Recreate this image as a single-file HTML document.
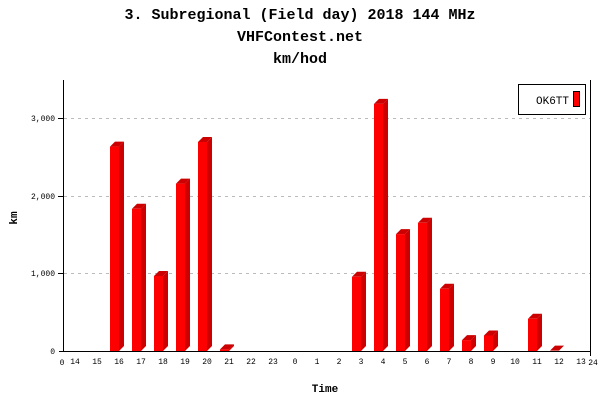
<!DOCTYPE html>
<html><head><meta charset="utf-8"><style>
body{margin:0;background:#fff;width:600px;height:400px;overflow:hidden}
svg text{font-family:"Liberation Mono",monospace}
</style></head><body>
<svg width="600" height="400" xmlns="http://www.w3.org/2000/svg">
<defs></defs>
<text x="300" y="19" text-anchor="middle" font-size="15" font-weight="bold">3. Subregional (Field day) 2018 144 MHz</text>
<text x="300" y="41" text-anchor="middle" font-size="15" font-weight="bold">VHFContest.net</text>
<text x="300" y="63" text-anchor="middle" font-size="15" font-weight="bold">km/hod</text>
<g stroke="#bbb" stroke-dasharray="3,4">
<line x1="64" y1="118.5" x2="590" y2="118.5"/><line x1="64" y1="196.5" x2="590" y2="196.5"/><line x1="64" y1="273.5" x2="590" y2="273.5"/>
</g>
<g>
<g transform="translate(110,146.6)"><polygon points="9,0 14,-5 14,199.4 9,204.4" fill="#c00"/><polygon points="0,0 5,-5 14,-5 9,0" fill="#c00"/><rect width="9" height="204.4" fill="#f00"/></g>
<g transform="translate(132,208.8)"><polygon points="9,0 14,-5 14,137.2 9,142.2" fill="#c00"/><polygon points="0,0 5,-5 14,-5 9,0" fill="#c00"/><rect width="9" height="142.2" fill="#f00"/></g>
<g transform="translate(154,276)"><polygon points="9,0 14,-5 14,70 9,75" fill="#c00"/><polygon points="0,0 5,-5 14,-5 9,0" fill="#c00"/><rect width="9" height="75" fill="#f00"/></g>
<g transform="translate(176,183.6)"><polygon points="9,0 14,-5 14,162.4 9,167.4" fill="#c00"/><polygon points="0,0 5,-5 14,-5 9,0" fill="#c00"/><rect width="9" height="167.4" fill="#f00"/></g>
<g transform="translate(198,142)"><polygon points="9,0 14,-5 14,204 9,209" fill="#c00"/><polygon points="0,0 5,-5 14,-5 9,0" fill="#c00"/><rect width="9" height="209" fill="#f00"/></g>
<g transform="translate(220,349.4)"><polygon points="9,0 14,-5 14,-3.4 9,1.6" fill="#c00"/><polygon points="0,0 5,-5 14,-5 9,0" fill="#c00"/><rect width="9" height="1.6" fill="#f00"/></g>
<g transform="translate(352,276.8)"><polygon points="9,0 14,-5 14,69.2 9,74.2" fill="#c00"/><polygon points="0,0 5,-5 14,-5 9,0" fill="#c00"/><rect width="9" height="74.2" fill="#f00"/></g>
<g transform="translate(374,103.9)"><polygon points="9,0 14,-5 14,242.1 9,247.1" fill="#c00"/><polygon points="0,0 5,-5 14,-5 9,0" fill="#c00"/><rect width="9" height="247.1" fill="#f00"/></g>
<g transform="translate(396,234.1)"><polygon points="9,0 14,-5 14,111.9 9,116.9" fill="#c00"/><polygon points="0,0 5,-5 14,-5 9,0" fill="#c00"/><rect width="9" height="116.9" fill="#f00"/></g>
<g transform="translate(418,222.8)"><polygon points="9,0 14,-5 14,123.2 9,128.2" fill="#c00"/><polygon points="0,0 5,-5 14,-5 9,0" fill="#c00"/><rect width="9" height="128.2" fill="#f00"/></g>
<g transform="translate(440,288.8)"><polygon points="9,0 14,-5 14,57.2 9,62.2" fill="#c00"/><polygon points="0,0 5,-5 14,-5 9,0" fill="#c00"/><rect width="9" height="62.2" fill="#f00"/></g>
<g transform="translate(462,340.1)"><polygon points="9,0 14,-5 14,5.9 9,10.9" fill="#c00"/><polygon points="0,0 5,-5 14,-5 9,0" fill="#c00"/><rect width="9" height="10.9" fill="#f00"/></g>
<g transform="translate(484,335.5)"><polygon points="9,0 14,-5 14,10.5 9,15.5" fill="#c00"/><polygon points="0,0 5,-5 14,-5 9,0" fill="#c00"/><rect width="9" height="15.5" fill="#f00"/></g>
<g transform="translate(528,318.8)"><polygon points="9,0 14,-5 14,27.2 9,32.2" fill="#c00"/><polygon points="0,0 5,-5 14,-5 9,0" fill="#c00"/><rect width="9" height="32.2" fill="#f00"/></g>
<g transform="translate(550,350.6)"><polygon points="0,0 5,-5 14,-5 9,0" fill="#c00"/></g>
</g>
<line x1="63.5" y1="80" x2="63.5" y2="352" stroke="#000"/>
<line x1="590.5" y1="80" x2="590.5" y2="356" stroke="#000"/>
<line x1="59" y1="351.5" x2="591" y2="351.5" stroke="#000"/>
<g font-size="8" text-anchor="end">
<text x="55" y="354">0</text><text x="55" y="276">1,000</text><text x="55" y="199">2,000</text><text x="55" y="121">3,000</text>
</g>
<g stroke="#000"><line x1="58" y1="273.5" x2="63" y2="273.5"/><line x1="58" y1="196.5" x2="63" y2="196.5"/><line x1="58" y1="118.5" x2="63" y2="118.5"/></g>
<g font-size="8" text-anchor="middle">
<text x="75" y="364">14</text><text x="97" y="364">15</text><text x="119" y="364">16</text><text x="141" y="364">17</text><text x="163" y="364">18</text><text x="185" y="364">19</text><text x="207" y="364">20</text><text x="229" y="364">21</text><text x="251" y="364">22</text><text x="273" y="364">23</text><text x="295" y="364">0</text><text x="317" y="364">1</text><text x="339" y="364">2</text><text x="361" y="364">3</text><text x="383" y="364">4</text><text x="405" y="364">5</text><text x="427" y="364">6</text><text x="449" y="364">7</text><text x="471" y="364">8</text><text x="493" y="364">9</text><text x="515" y="364">10</text><text x="537" y="364">11</text><text x="559" y="364">12</text><text x="581" y="364">13</text>
</g>
<text x="62" y="365" font-size="8" text-anchor="middle">0</text>
<text x="593" y="365" font-size="8" text-anchor="middle">24</text>
<text x="325" y="392" font-size="11" font-weight="bold" text-anchor="middle">Time</text>
<text x="0" y="0" font-size="11" font-weight="bold" text-anchor="middle" transform="translate(17,218) rotate(-90)">km</text>
<rect x="518.5" y="84.5" width="67" height="30" fill="#fff" stroke="#000"/>
<text x="536" y="104" font-size="11">OK6TT</text>
<rect x="573.5" y="91.5" width="6" height="15" fill="#f00" stroke="#000"/>
</svg>
</body></html>
